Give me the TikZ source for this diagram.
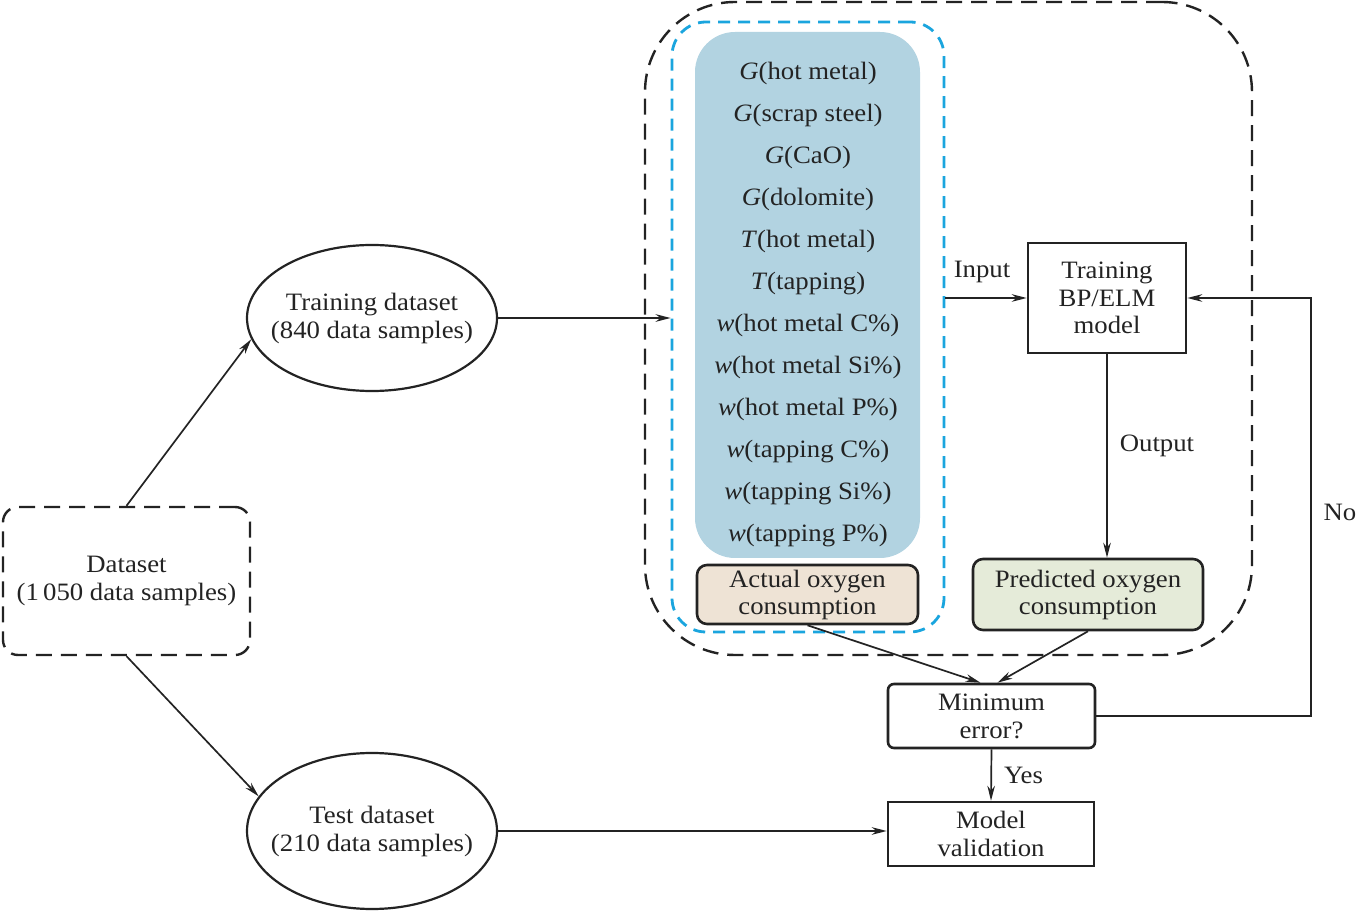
\documentclass[tikz,border=0pt]{standalone}
\usepackage{fontspec}
\setmainfont{Liberation Serif}[FakeStretch=1.07]
\usetikzlibrary{arrows.meta,shapes.geometric,calc}
\definecolor{boxblue}{RGB}{178,211,225}
\definecolor{dashblue}{RGB}{26,165,222}
\definecolor{beige}{RGB}{238,227,213}
\definecolor{palegreen}{RGB}{229,235,217}
\definecolor{ink}{RGB}{35,35,35}
\tikzset{
  txt/.style={font=\fontsize{12.5}{14}\selectfont, text=ink, align=center, inner sep=0pt},
  arr/.style={draw=ink, line width=0.85pt, -{Stealth[length=7.5pt,width=3.8pt]}},
  plainbox/.style={txt, draw=ink, line width=1.3pt, rectangle},
  roundbox/.style={plainbox, rounded corners=3pt},
  ell/.style={draw=ink, line width=1.1pt, ellipse, inner sep=0pt},
  blackdash/.style={draw=ink, line width=1.2pt, dash pattern=on 8pt off 4.5pt},
  bluedashed/.style={draw=dashblue, line width=1.4pt, dash pattern=on 6pt off 4pt},
  lbl/.style={font=\fontsize{12.5}{14}\selectfont, text=ink, inner sep=0pt},
}
\begin{document}
\begin{tikzpicture}[x=0.5pt,y=-0.5pt]
\useasboundingbox (0,0) rectangle (1356,914);
% outer black dashed group
\node[blackdash, rounded corners=45pt, minimum width=303.5pt, minimum height=326.5pt, inner sep=0pt] (outer) at (948.5,328.5) {};
% blue dashed group
\node[bluedashed, rounded corners=17pt, minimum width=136pt, minimum height=305pt, inner sep=0pt] (bluedash) at (808,327) {};
% blue filled box
\node[fill=boxblue, rounded corners=20pt, minimum width=112.5pt, minimum height=263pt, inner sep=0pt] (bluefill) at (807.5,295) {};
\node[txt, font=\fontsize{12.5}{21}\selectfont] (items) at (808,305) {%
\textit{G}(hot metal)\\ \textit{G}(scrap steel)\\ \textit{G}(CaO)\\ \textit{G}(dolomite)\\ \textit{T}(hot metal)\\ \textit{T}(tapping)\\
\textit{w}(hot metal C\%)\\ \textit{w}(hot metal Si\%)\\ \textit{w}(hot metal P\%)\\ \textit{w}(tapping C\%)\\ \textit{w}(tapping Si\%)\\ \textit{w}(tapping P\%)};
% boxes
\node[roundbox, fill=beige, rounded corners=5pt, minimum width=110.5pt, minimum height=29.5pt, font=\fontsize{12.5}{13.5}\selectfont] (actual) at (807.5,594.5) {Actual oxygen\\consumption};
\node[roundbox, fill=palegreen, rounded corners=5pt, minimum width=115pt, minimum height=35.5pt, font=\fontsize{12.5}{13.5}\selectfont] (pred) at (1088,594.5) {Predicted oxygen\\consumption};
\node[plainbox, minimum width=79pt, minimum height=55pt, font=\fontsize{12.5}{13.8}\selectfont] (model) at (1107,298) {Training\\BP/ELM\\model};
\node[roundbox, minimum width=103.5pt, minimum height=32pt] (minerr) at (991.5,716) {Minimum\\error?};
\node[plainbox, minimum width=103pt, minimum height=32pt] (valid) at (991,834) {Model\\validation};
\node[txt, blackdash, rounded corners=7.5pt, minimum width=123.5pt, minimum height=74pt] (data) at (126.5,581) {Dataset\\(1\,050 data samples)};
\node[ell, minimum width=125pt, minimum height=73pt, label={[txt]center:{Training dataset\\(840 data samples)}}] (train) at (372,318) {};
\node[ell, minimum width=125pt, minimum height=78pt, label={[txt]center:{Test dataset\\(210 data samples)}}] (test) at (372,831) {};
% connectors
\draw[arr] (data.north) -- (train.190);
\draw[arr] (data.south) -- (test.163);
\draw[arr] (train.east) -- (train.east -| bluedash.west);
\draw[arr] (model.west -| bluedash.east) -- node[lbl, above=7pt, pos=0.45] (inlbl) {Input} (model.west);
\draw[arr] (model.south) -- node[lbl, right=6pt, pos=0.45] (outlbl) {Output} (model.south |- pred.north);
\draw[arr] (actual.south) -- ($(minerr.north)+(-11,0)$);
\draw[arr] (pred.south) -- ($(minerr.north)+(6,0)$);
\draw[arr] (minerr.south) -- node[lbl, right=6pt] (yeslbl) {Yes} (valid.north);
\draw[arr] (test.east) -- (test.east -| valid.west);
\coordinate (fbc) at (1311,298);
\draw[arr] (minerr.east) -| (fbc) -- (model.east);
\node[lbl] (nolbl) at (1340,512) {No};
\end{tikzpicture}
\end{document}
